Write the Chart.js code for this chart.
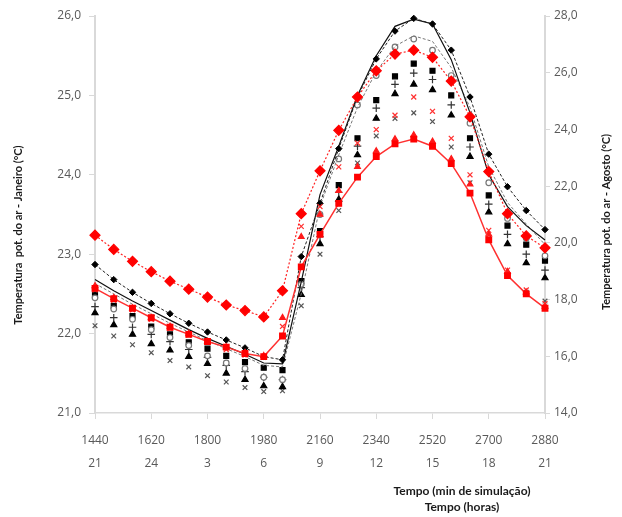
<!DOCTYPE html>
<html>
<head>
<meta charset="utf-8">
<script src="https://cdn.jsdelivr.net/npm/chart.js@4/dist/chart.umd.min.js"></script>
<style>
  html, body { margin: 0; padding: 0; background: #fff; }
  #wrap { width: 622px; height: 517px; position: relative; }
</style>
</head>
<body>
<div id="wrap"><canvas id="tempChart"></canvas></div>
<script>
// minutes of simulation, one reading every 60 min
const minutes = [1440, 1500, 1560, 1620, 1680, 1740, 1800, 1860, 1920, 1980, 2040, 2100, 2160,
  2220, 2280, 2340, 2400, 2460, 2520, 2580, 2640, 2700, 2760, 2820, 2880];

const xTicks = [1440, 1620, 1800, 1980, 2160, 2340, 2520, 2700, 2880];
const hourLabels = ['21', '24', '3', '6', '9', '12', '15', '18', '21'];

// values in left-axis units (°C, Janeiro scale)
const blackDashDiamond = [22.87, 22.68, 22.52, 22.38, 22.25, 22.13, 22.02, 21.92, 21.82, 21.71, 21.67, 22.97, 23.64,
  24.33, 24.98, 25.46, 25.81, 25.97, 25.90, 25.57, 24.98, 24.26, 23.85, 23.55, 23.31];
const redDotDiamond = [23.24, 23.06, 22.91, 22.78, 22.66, 22.56, 22.46, 22.36, 22.29, 22.21, 22.54, 23.51, 24.05,
  24.56, 24.98, 25.31, 25.52, 25.57, 25.48, 25.18, 24.73, 24.04, 23.51, 23.23, 23.08];
const redSolidSquare = [22.57, 22.44, 22.32, 22.20, 22.08, 21.99, 21.90, 21.83, 21.75, 21.71, 21.97, 22.84, 23.25,
  23.64, 23.97, 24.23, 24.39, 24.45, 24.36, 24.14, 23.77, 23.18, 22.73, 22.50, 22.32];
const blackSolid = [22.68, 22.54, 22.41, 22.29, 22.17, 22.05, 21.94, 21.84, 21.74, 21.63, 21.62, 22.65, 23.75,
  24.36, 25.00, 25.50, 25.87, 25.96, 25.90, 25.45, 24.78, 24.00, 23.60, 23.36, 23.18];
const grayDash = [22.63, 22.50, 22.37, 22.25, 22.13, 22.02, 21.91, 21.81, 21.71, 21.60, 21.58, 22.50, 23.60,
  24.25, 24.85, 25.30, 25.62, 25.75, 25.68, 25.35, 24.85, 24.10, 23.65, 23.38, 23.12];
const openCircles = [22.45, 22.31, 22.18, 22.05, 21.95, 21.85, 21.72, 21.63, 21.56, 21.45, 21.42, 22.62, 23.50,
  24.20, 24.88, 25.25, 25.61, 25.71, 25.57, 25.25, 24.65, 23.90, 23.45, 23.20, 22.98];
const blackSquares = [22.49, 22.35, 22.22, 22.09, 21.99, 21.89, 21.81, 21.72, 21.64, 21.57, 21.54, 22.66, 23.29,
  23.87, 24.46, 24.94, 25.24, 25.40, 25.31, 25.00, 24.46, 23.74, 23.36, 23.12, 22.92];
const blackPlus = [22.34, 22.20, 22.08, 21.99, 21.90, 21.80, 21.70, 21.60, 21.52, 21.45, 21.42, 22.58, 23.22,
  23.78, 24.36, 24.84, 25.14, 25.28, 25.20, 24.88, 24.35, 23.63, 23.25, 23.00, 22.80];
const blackTriangles = [22.26, 22.11, 21.99, 21.87, 21.79, 21.71, 21.62, 21.50, 21.42, 21.34, 21.33, 22.49, 23.13,
  23.69, 24.25, 24.71, 25.02, 25.14, 25.07, 24.75, 24.23, 23.53, 23.13, 22.89, 22.70];
const blackCross = [22.10, 21.97, 21.86, 21.76, 21.66, 21.58, 21.47, 21.39, 21.32, 21.27, 21.28, 22.35, 23.00,
  23.55, 24.15, 24.49, 24.71, 24.78, 24.67, 24.35, 23.90, 23.20, 22.75, 22.52, 22.41];
const redCross = [22.55, 22.42, 22.30, 22.18, 22.07, 21.98, 21.89, 21.80, 21.73, 21.70, 22.09, 23.35, 23.60,
  24.10, 24.40, 24.57, 24.75, 24.98, 24.80, 24.46, 24.00, 23.30, 22.80, 22.55, 22.38];
const redTriangles = [22.60, 22.45, 22.32, 22.20, 22.09, 22.00, 21.90, 21.83, 21.76, 21.72, 22.20, 23.22, 23.50,
  23.80, 24.10, 24.30, 24.45, 24.50, 24.42, 24.20, 23.88, 23.25, 22.78, 22.52, 22.34];

const leftTitle = 'Temperatura  pot. do ar - Janeiro (°C)';
const rightTitle = 'Temperatura pot. do ar - Agosto (°C)';
const xTitleLines = ['Tempo (min de simulação)', 'Tempo (horas)'];

function pts(values) {
  return values.map((v, i) => ({ x: minutes[i], y: v }));
}

function lineSet(values, opts) {
  return Object.assign({
    data: pts(values),
    borderWidth: 1,
    borderColor: '#000',
    backgroundColor: '#000',
    pointRadius: 0,
    tension: 0,
    clip: false,
  }, opts);
}

function markerSet(values, style, color, radius, order, fill) {
  return {
    data: pts(values),
    showLine: false,
    pointStyle: style,
    pointRadius: radius,
    pointBorderColor: color,
    pointBackgroundColor: fill || color,
    pointBorderWidth: 1.2,
    borderColor: color,
    backgroundColor: fill || color,
    clip: false,
    order,
  };
}

// hand-drawn titles so they sit where the original puts them
const axisTitles = {
  id: 'axisTitles',
  afterDraw(chart) {
    const { ctx } = chart;
    ctx.save();
    ctx.fillStyle = '#1a1a1a';
    ctx.textAlign = 'center';
    ctx.textBaseline = 'middle';
    ctx.font = 'bold 11px Lato';
    ctx.save();
    ctx.translate(18, 235);
    ctx.rotate(-Math.PI / 2);
    ctx.fillText(leftTitle, 0, 0);
    ctx.restore();
    ctx.save();
    ctx.translate(606, 222);
    ctx.rotate(-Math.PI / 2);
    ctx.fillText(rightTitle, 0, 0);
    ctx.restore();
    ctx.font = 'bold 12px Lato';
    ctx.fillText(xTitleLines[0], 462, 491);
    ctx.fillText(xTitleLines[1], 462, 507);
    ctx.restore();
  },
};

const tickFont = { family: 'Open Sans', size: 12 };

new Chart(document.getElementById('tempChart'), {
  type: 'line',
  data: {
    datasets: [
      lineSet(redDotDiamond, {
        borderColor: '#ff2020', borderDash: [2, 2], borderWidth: 1.2,
        pointStyle: 'rectRot', pointRadius: 5, pointBackgroundColor: '#ff0000', pointBorderColor: '#ff0000',
        order: 1,
      }),
      lineSet(redSolidSquare, {
        borderColor: '#ff3030', borderWidth: 1.5,
        pointStyle: 'rect', pointRadius: 3.8, pointBackgroundColor: '#ff0000', pointBorderColor: '#ff0000',
        order: 2,
      }),
      markerSet(redTriangles, 'triangle', '#ff1a1a', 3.3, 3),
      markerSet(redCross, 'crossRot', '#ff3030', 3.5, 4),
      lineSet(blackDashDiamond, {
        borderColor: '#222', borderDash: [3, 2],
        pointStyle: 'rectRot', pointRadius: 3.2, pointBackgroundColor: '#000', pointBorderColor: '#000',
        order: 5,
      }),
      lineSet(blackSolid, { borderColor: '#111', borderWidth: 1.2, order: 6 }),
      lineSet(grayDash, { borderColor: '#777', borderDash: [3, 2], order: 7 }),
      markerSet(openCircles, 'circle', '#777', 2.8, 8, '#fff'),
      markerSet(blackSquares, 'rect', '#000', 3.5, 9),
      markerSet(blackPlus, 'cross', '#333', 3.8, 10),
      markerSet(blackTriangles, 'triangle', '#000', 3.5, 11),
      markerSet(blackCross, 'crossRot', '#555', 3.3, 12),
    ].map((d) => Object.assign(d, { yAxisID: 'y' })),
  },
  options: {
    responsive: true,
    maintainAspectRatio: false,
    animation: false,
    layout: { padding: { top: 16, left: 0, right: 0, bottom: 0 } },
    plugins: { legend: { display: false }, tooltip: { enabled: false } },
    scales: {
      x: {
        type: 'linear',
        min: 1440,
        max: 2880,
        afterBuildTicks: (scale) => { scale.ticks = xTicks.map((v) => ({ value: v })); },
        afterFit: (scale) => { scale.height = 104; },
        border: { color: '#d9d9d9', width: 1.5 },
        grid: { drawOnChartArea: false, color: '#d9d9d9', tickLength: 6 },
        ticks: {
          color: '#595959',
          font: Object.assign({ lineHeight: 1.9 }, tickFont),
          padding: 10,
          maxRotation: 0,
          callback: (v) => {
            const i = xTicks.indexOf(v);
            return [String(v), hourLabels[i]];
          },
        },
      },
      y: {
        position: 'left',
        min: 21,
        max: 26,
        afterFit: (scale) => { scale.width = 95; },
        border: { color: '#d9d9d9', width: 2 },
        grid: { drawOnChartArea: false, color: '#d9d9d9', tickLength: 6 },
        ticks: {
          stepSize: 1,
          color: '#595959',
          font: tickFont,
          padding: 8,
          callback: (v) => v.toFixed(1).replace('.', ','),
        },
      },
      y2: {
        position: 'right',
        min: 14,
        max: 28,
        afterFit: (scale) => { scale.width = 77; },
        border: { color: '#d9d9d9', width: 2 },
        grid: { drawOnChartArea: false, color: '#d9d9d9', tickLength: 5 },
        ticks: {
          stepSize: 2,
          color: '#595959',
          font: tickFont,
          padding: 4,
          callback: (v) => v.toFixed(1).replace('.', ','),
        },
      },
    },
  },
  plugins: [axisTitles],
});
</script>
</body>
</html>
